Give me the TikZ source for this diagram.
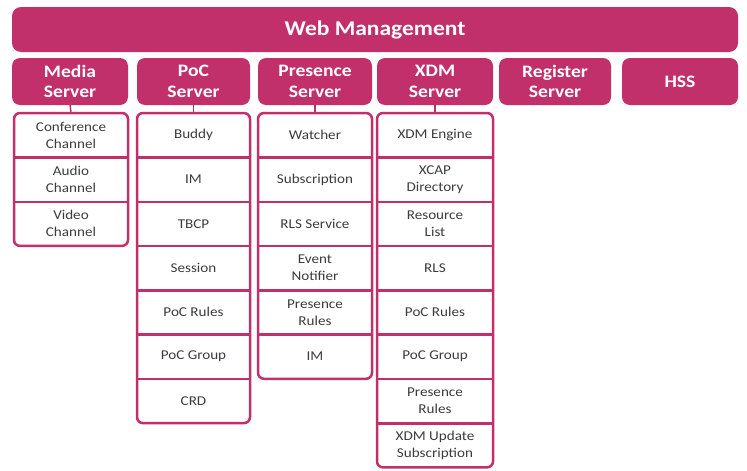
\documentclass[tikz,border=0pt]{standalone}
\usepackage{fontspec}
\setmainfont{Carlito}[FakeStretch=1.12]
\definecolor{mag}{HTML}{C2306B}
\definecolor{txt}{HTML}{3C3C3C}
\begin{document}
\begin{tikzpicture}[x=1pt,y=-1pt,
 top/.style={fill=mag, rounded corners=9pt, text=white, font=\bfseries\fontsize{21}{25}\selectfont, minimum width=726pt, minimum height=45pt, inner sep=0},
 hdr/.style={fill=mag, rounded corners=8pt, text=white, align=center, font=\bfseries\fontsize{17.5}{20.5}\selectfont, minimum height=47pt, inner sep=0},
 col/.style={draw=mag, line width=2.5pt, rounded corners=6pt, inner sep=0},
 cell/.style={align=center, text=txt, font=\fontsize{13.5}{17}\selectfont, inner sep=0, minimum height=44.3pt},
 sep/.style={draw=mag, line width=2.5pt},
 link/.style={draw=mag, line width=1.5pt}]
\useasboundingbox (0,0) rectangle (747,471);
\node[top] (web) at (375,29.5) {Web Management};
\node[hdr, minimum width=116pt] (mh) at (70,81.5) {Media\\Server};
\node[hdr, minimum width=113pt] (ph) at (193.5,81.5) {PoC\\Server};
\node[hdr, minimum width=114pt] (sh) at (315,81.5) {Presence\\Server};
\node[hdr, minimum width=116pt] (xh) at (435,81.5) {XDM\\Server};
\node[hdr, minimum width=112pt] (rh) at (555,81.5) {Register\\Server};
\node[hdr, minimum width=116pt] (hh) at (680,81.5) {HSS};
% Media column
\node[col, minimum width=114pt, minimum height=132.9pt] (mcol) at (71,179.45) {};
\foreach \t [count=\i] in {{Conference\\Channel},{Audio\\Channel},{Video\\Channel}}
  \node[cell, minimum width=114pt] (m\i) at (71,{113+44.3*(\i-0.5)}) {\t};
\foreach \i in {1,2} \draw[sep] (m\i.south west) -- (m\i.south east);
\draw[link] (mh.south) -- (mcol.north);
% PoC column
\node[col, minimum width=113pt, minimum height=310.1pt] (pcol) at (193.5,268.05) {};
\foreach \t [count=\i] in {Buddy,IM,TBCP,Session,PoC Rules,PoC Group,CRD}
  \node[cell, minimum width=113pt] (p\i) at (193.5,{113+44.3*(\i-0.5)}) {\t};
\foreach \i in {1,...,6} \draw[sep] (p\i.south west) -- (p\i.south east);
\draw[link] (ph.south) -- (pcol.north);
% Presence column
\node[col, minimum width=114pt, minimum height=265.8pt] (scol) at (315,245.9) {};
\foreach \t [count=\i] in {Watcher,Subscription,RLS Service,{Event\\Notifier},{Presence\\Rules},IM}
  \node[cell, minimum width=114pt] (s\i) at (315,{113+44.3*(\i-0.5)}) {\t};
\foreach \i in {1,...,5} \draw[sep] (s\i.south west) -- (s\i.south east);
\draw[link] (sh.south) -- (scol.north);
% XDM column
\node[col, minimum width=116pt, minimum height=354.4pt] (xcol) at (435,290.2) {};
\foreach \t [count=\i] in {XDM Engine,{XCAP\\Directory},{Resource\\List},RLS,PoC Rules,PoC Group,{Presence\\Rules},{XDM Update\\Subscription}}
  \node[cell, minimum width=116pt] (x\i) at (435,{113+44.3*(\i-0.5)}) {\t};
\foreach \i in {1,...,7} \draw[sep] (x\i.south west) -- (x\i.south east);
\draw[link] (xh.south) -- (xcol.north);
\end{tikzpicture}
\end{document}
